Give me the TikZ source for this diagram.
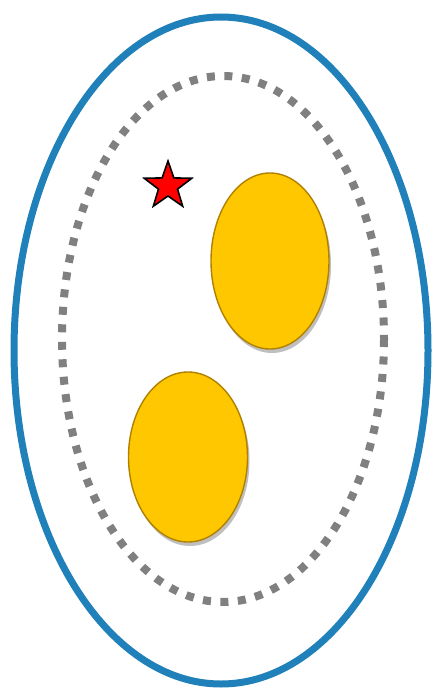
\documentclass[tikz,border=0pt]{standalone}
\usetikzlibrary{shapes.geometric,shadows}
\definecolor{cellblue}{RGB}{31,128,186}
\definecolor{dotgray}{RGB}{128,128,128}
\definecolor{yolk}{RGB}{255,199,0}
\definecolor{yolkedge}{RGB}{176,128,0}
\tikzset{
  blob/.style={ellipse,inner sep=0pt,fill=yolk,draw=yolkedge,line width=1.4pt,
    drop shadow={shadow xshift=2pt,shadow yshift=-4pt,opacity=0.25,fill=black}},
  mark star/.style={star,star points=5,star point ratio=2.5,inner sep=0pt,
    minimum size=50pt,fill=red,draw=black,line width=1.6pt}
}
\begin{document}
\begin{tikzpicture}[x=1pt,y=-1pt,line cap=butt]
\useasboundingbox (0,0) rectangle (439,693);

\coordinate (C) at (221,350.5);   % outer centre
\coordinate (M) at (223,339);     % inner centre

\draw[cellblue,line width=7pt] (C) ellipse [x radius=207,y radius=333.5];
\draw[dotgray,line width=8pt,dash pattern=on 8pt off 9.5pt] (M) ellipse [x radius=161,y radius=263];

\node[blob,minimum width=118pt,minimum height=176pt] (upper) at (270,261) {};
\node[blob,minimum width=119pt,minimum height=170pt] (lower) at (188,457) {};

\node[mark star] (S) at (168,186) {};
\end{tikzpicture}
\end{document}
